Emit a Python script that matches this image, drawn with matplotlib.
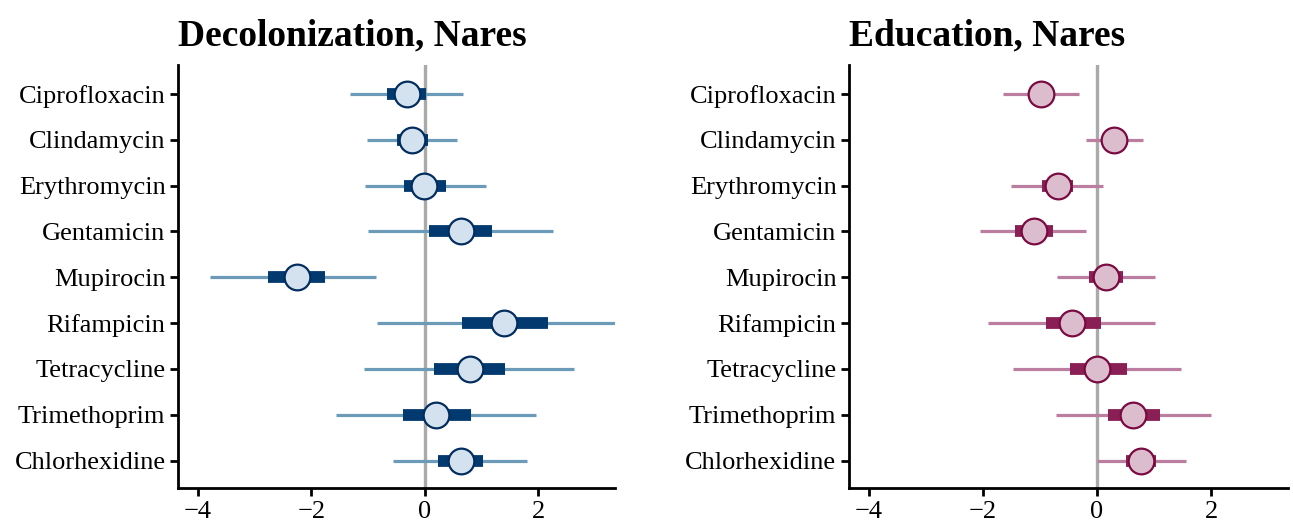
import matplotlib
matplotlib.use("Agg")
import matplotlib.pyplot as plt
import numpy as np

drugs = ["Ciprofloxacin", "Clindamycin", "Erythromycin", "Gentamicin", "Mupirocin",
         "Rifampicin", "Tetracycline", "Trimethoprim", "Chlorhexidine"]

# Decolonization, Nares
dec_est = [-0.32, -0.23, -0.01, 0.63, -2.26, 1.40, 0.79, 0.20, 0.63]
dec_lo95 = [-1.32, -1.02, -1.06, -1.00, -3.79, -0.85, -1.08, -1.57, -0.56]
dec_hi95 = [0.67, 0.56, 1.08, 2.25, -0.87, 3.40, 2.63, 1.96, 1.80]
dec_lo50 = [-0.67, -0.50, -0.37, 0.08, -2.77, 0.65, 0.16, -0.39, 0.23]
dec_hi50 = [0.02, 0.05, 0.37, 1.19, -1.76, 2.17, 1.42, 0.82, 1.02]

# Education, Nares
edu_est = [-0.98, 0.29, -0.69, -1.11, 0.15, -0.43, 0.00, 0.63, 0.78]
edu_lo95 = [-1.65, -0.19, -1.51, -2.05, -0.71, -1.92, -1.48, -0.72, 0.00]
edu_hi95 = [-0.31, 0.80, 0.11, -0.20, 1.01, 1.01, 1.48, 2.00, 1.56]
edu_lo50 = [-1.12, 0.16, -0.97, -1.43, -0.14, -0.90, -0.48, 0.19, 0.51]
edu_hi50 = [-0.84, 0.42, -0.42, -0.78, 0.46, 0.07, 0.52, 1.10, 1.04]

titles = ["Decolonization, Nares", "Education, Nares"]
xticks = [-4, -2, 0, 2]

plt.rcParams['font.family'] = ['Liberation Serif', 'DejaVu Serif']

fig = plt.figure(figsize=(12.93, 5.23), dpi=100)
W, H = 1293, 523
ax1 = fig.add_axes([178 / W, 1 - 488 / H, (615 - 178) / W, (488 - 65) / H])
ax2 = fig.add_axes([849 / W, 1 - 488 / H, (1288 - 849) / W, (488 - 65) / H])

styles = [
    dict(thin="#6b9bb9", thick="#023a70", face="#d3e2ee", edge="#022d5e"),
    dict(thin="#bb7da0", thick="#8a1f55", face="#dcbdcd", edge="#7a0b42"),
]
datasets = [
    (dec_est, dec_lo95, dec_hi95, dec_lo50, dec_hi50),
    (edu_est, edu_lo95, edu_hi95, edu_lo50, edu_hi50),
]

for ax, title, st, (est, lo95, hi95, lo50, hi50) in zip([ax1, ax2], titles, styles, datasets):
    y = np.arange(len(drugs))
    ax.axvline(0, color="#aaaaaa", lw=2.4, zorder=1)
    ax.hlines(y, lo95, hi95, color=st["thin"], lw=2.3, zorder=2)
    ax.hlines(y, lo50, hi50, color=st["thick"], lw=8.5, zorder=3)
    ax.plot(est, y, "o", ms=18.5, mfc=st["face"], mec=st["edge"], mew=1.6, zorder=4, ls="none")
    ax.set_yticks(y)
    ax.set_yticklabels(drugs)
    ax.set_xticks(xticks)
    ax.set_xticklabels([f"{t}".replace("-", "\u2212") for t in xticks])
    ax.set_xlim(-4.35, 3.35)
    ax.set_ylim(8.6, -0.63)
    for s in ["top", "right"]:
        ax.spines[s].set_visible(False)
    for s in ["left", "bottom"]:
        ax.spines[s].set_linewidth(2.0)
    ax.tick_params(axis="y", which="major", length=6, width=2, labelsize=19, pad=3)
    ax.tick_params(axis="x", which="major", length=6, width=2, labelsize=19, pad=3)
    ax.set_title(title, fontsize=27, fontweight="bold", pad=14, loc="left")

fig.savefig("out.png", dpi=100)
